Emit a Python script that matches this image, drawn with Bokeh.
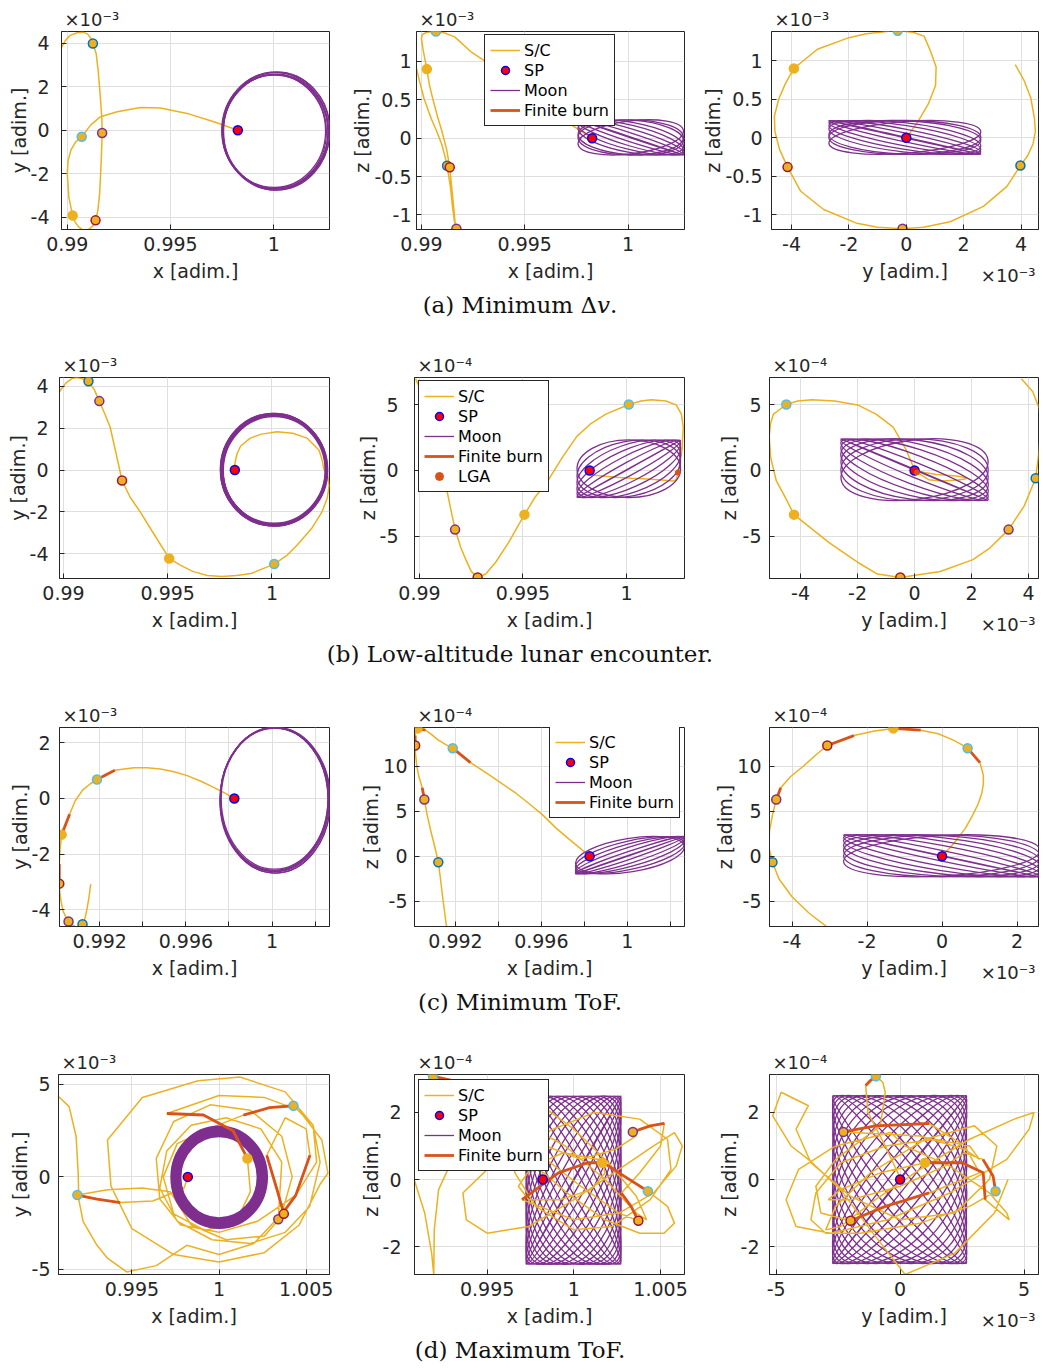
import numpy as np
from bokeh.plotting import figure
from bokeh.layouts import column, row
from bokeh.models import Range1d, FixedTicker, Legend, LegendItem, Div, Title
from bokeh.embed import file_html
from bokeh.resources import INLINE

# ---------------- colours ----------------
SC = "#EDB120"
MOON = "#7E2F8E"
BURN = "#D95319"
AX = "#262626"
GRID = "#DFDFDF"
BLUE, PURPLE, DRED, ORNG, LBLUE = "#0072BD", "#7E2F8E", "#A2142F", "#EDB120", "#4DBEEE"

# ================= (a) Minimum dv =================
# x [adim.], y [1e-3 adim.], z [1e-3 adim.]
a_x = [0.98972, 0.98990, 0.99012, 0.99048, 0.99075, 0.99098, 0.99114, 0.99124, 0.99140, 0.99150,
       0.99160, 0.99167, 0.99169, 0.99166, 0.99163, 0.99157, 0.99148, 0.99137, 0.99122, 0.99100,
       0.99078, 0.99056, 0.99038, 0.99026, 0.99008, 0.99000, 0.99004, 0.99018, 0.99040, 0.99070,
       0.99113, 0.99161, 0.99242, 0.99355, 0.99452, 0.99580, 0.99710, 0.99826]
a_y = [3.80, 4.10, 4.34, 4.47, 4.50, 4.42, 4.22, 3.98, 3.51, 2.69,
       1.53, 0.60, -0.13, -1.00, -1.72, -2.88, -3.69, -4.14, -4.42, -4.58,
       -4.60, -4.45, -4.22, -3.92, -3.10, -2.00, -1.40, -0.90, -0.55, -0.30,
       0.23, 0.62, 0.85, 1.04, 1.02, 0.77, 0.39, 0.00]
a_z = [0.95, 0.75, 0.52, 0.25, 0.08, -0.08, -0.24, -0.36, -0.63, -0.89,
       -1.09, -1.16, -1.18, -1.16, -1.11, -0.93, -0.69, -0.38, -0.15, 0.08,
       0.28, 0.50, 0.70, 0.90, 1.15, 1.30, 1.35, 1.37, 1.385, 1.39,
       1.37, 1.32, 1.12, 0.92, 0.68, 0.44, 0.20, 0.00]
a_burns = []
a_mk_x = [0.99124, 0.99169, 0.99137, 0.99026, 0.99070]
a_mk_y = [3.98, -0.13, -4.14, -3.92, -0.30]
a_mk_z = [-0.36, -1.18, -0.38, 0.90, 1.39]
a_mk_c = [BLUE, PURPLE, DRED, ORNG, LBLUE]
a_sp = [0.99826, 0.0, 0.0]
# Moon loops: (centre h, centre v, width, height, angle deg)
a_moon_xy = [(1.00006, -0.02, 0.00516, 5.32, 0), (1.00010, -0.06, 0.00510, 5.26, 0),
             (1.00003, -0.08, 0.00504, 5.22, 0), (1.00012, 0.00, 0.00520, 5.36, 0),
             (1.00008, -0.10, 0.00508, 5.30, 0), (1.00001, -0.04, 0.00500, 5.18, 0),
             (1.00014, -0.05, 0.00514, 5.40, 0)]
a_moon_xz = [(1.00013, 0.01, 0.00537, 0.01, -18.4), (1.00013, 0.01, 0.00536, 0.113, -17.9),
             (1.00013, 0.01, 0.00531, 0.220, -16.5), (1.00013, 0.01, 0.00525, 0.315, -13.9),
             (1.00013, 0.01, 0.00518, 0.391, -10.2), (1.00013, 0.01, 0.00511, 0.451, -3.7),
             (1.00013, 0.01, 0.00510, 0.459, 0.0), (1.00013, 0.01, 0.00514, 0.428, 7.2)]
a_moon_yz = [(-0.05, 0.005, 5.43, 0.01, -12.5), (-0.05, 0.005, 5.41, 0.112, -12.2),
             (-0.05, 0.005, 5.39, 0.216, -11.0), (-0.05, 0.005, 5.36, 0.308, -9.1),
             (-0.05, 0.005, 5.33, 0.380, -6.6), (-0.05, 0.005, 5.30, 0.433, -2.3),
             (-0.05, 0.005, 5.30, 0.440, 0.0), (-0.05, 0.005, 5.31, 0.412, 4.5)]

# ================= (b) Low-altitude lunar encounter =================
# x [adim.], y [1e-3], z [1e-4]
b_x = [0.98981, 0.99010, 0.99040, 0.99065, 0.99095, 0.99120, 0.99148, 0.99172, 0.99200, 0.99224,
       0.99250, 0.99281, 0.99320, 0.99368, 0.99430, 0.99507, 0.99560, 0.99620, 0.99690, 0.99760,
       0.99830, 0.99900, 1.00011, 1.00070, 1.00120, 1.00190, 1.00240, 1.00265, 1.00274, 1.00268,
       1.00255, 1.00248, 1.00240, 1.00226, 1.00168, 1.00100, 1.00024, 0.99950, 0.99896, 0.99850,
       0.99832, 0.99823, 0.99822]
b_y = [3.75, 4.15, 4.38, 4.43, 4.36, 4.25, 3.85, 3.30, 2.65, 2.05,
       0.90, -0.50, -1.30, -2.00, -3.00, -4.23, -4.55, -4.85, -5.05, -5.10,
       -5.05, -4.95, -4.50, -4.10, -3.60, -2.80, -2.00, -1.35, -0.75, -0.30,
       -0.05, 0.08, 0.50, 0.95, 1.53, 1.76, 1.83, 1.72, 1.53, 1.15,
       0.77, 0.35, 0.05]
b_z = [7.0, 6.0, 4.7, 3.2, 1.3, -0.59, -2.7, -4.51, -5.9, -6.8,
       -7.7, -8.16, -7.9, -7.0, -5.5, -3.37, -2.0, -0.8, 1.0, 2.6,
       3.6, 4.3, 5.03, 5.30, 5.40, 5.30, 5.00, 4.30, 3.30, 1.60,
       0.30, -0.15, -0.70, -0.80, -0.72, -0.66, -0.60, -0.52, -0.45, -0.37,
       -0.30, -0.15, 0.0]
b_burns = []
b_mk_x = [0.99120, 0.99172, 0.99281, 0.99507, 1.00011]
b_mk_y = [4.25, 3.30, -0.50, -4.23, -4.50]
b_mk_z = [-0.59, -4.51, -8.16, -3.37, 5.03]
b_mk_c = [BLUE, PURPLE, DRED, ORNG, LBLUE]
b_sp = [0.99822, 0.0, 0.0]
b_lga = [1.00248, 0.08, -0.15]
b_moon_xy = [(1.00010, 0.02, 0.00502, 5.28, 0), (1.00012, 0.00, 0.00496, 5.22, 0),
             (1.00008, 0.04, 0.00508, 5.34, 0), (1.00011, -0.02, 0.00490, 5.16, 0),
             (1.00009, 0.01, 0.00512, 5.38, 0), (1.00013, 0.03, 0.00498, 5.24, 0),
             (1.00007, -0.01, 0.00505, 5.30, 0), (1.00010, 0.05, 0.00494, 5.20, 0),
             (1.00012, 0.00, 0.00510, 5.33, 0)]
b_moon_xz = [(1.00011, 0.13, 0.00572, 0.02, 29.0), (1.00011, 0.13, 0.00568, 1.01, 28.6),
             (1.00011, 0.13, 0.00558, 1.97, 27.2), (1.00011, 0.13, 0.00543, 2.86, 24.3),
             (1.00011, 0.13, 0.00524, 3.64, 19.4), (1.00011, 0.13, 0.00507, 4.19, 11.3),
             (1.00011, 0.13, 0.00500, 4.40, 0.0)]
b_moon_yz = [(0.0, 0.06, 5.60, 0.05, -22.7), (0.0, 0.06, 5.58, 1.13, -22.2),
             (0.0, 0.06, 5.51, 2.22, -20.6), (0.0, 0.06, 5.41, 3.18, -17.8),
             (0.0, 0.06, 5.30, 3.98, -13.4), (0.0, 0.06, 5.20, 4.53, -7.3),
             (0.0, 0.06, 5.17, 4.71, 0.0), (0.0, 0.06, 5.20, 4.53, 7.3)]

# ================= (c) Minimum ToF =================
c_x = [0.99158, 0.99150, 0.99140, 0.99130, 0.99120, 0.99104, 0.99085, 0.99068, 0.99055, 0.99045,
       0.99030, 0.99020, 0.99014, 0.99012, 0.99012, 0.99016, 0.99023, 0.99060, 0.99085, 0.99120,
       0.99155, 0.99187, 0.99270, 0.99359, 0.99420, 0.99482, 0.99545, 0.99606, 0.99670, 0.99729,
       0.99780, 0.99825]
c_y = [-3.08, -3.55, -4.00, -4.35, -4.52, -4.62, -4.60, -4.52, -4.42, -4.30,
       -4.05, -3.70, -3.35, -3.06, -2.35, -1.80, -1.30, -0.57, -0.10, 0.30,
       0.52, 0.68, 1.01, 1.10, 1.10, 1.06, 0.96, 0.82, 0.62, 0.40,
       0.20, 0.00]
c_z = [-7.8, -6.3, -4.5, -2.5, -0.66, 1.0, 2.8, 4.6, 6.3, 7.6,
       8.8, 10.0, 11.3, 12.3, 13.4, 13.9, 14.2, 14.0, 13.6, 12.9,
       12.4, 12.0, 10.4, 9.0, 8.0, 7.0, 5.8, 4.6, 3.1, 1.9,
       0.9, 0.0]
c_burns = [(8, 9), (13, 14), (16, 17), (21, 22)]
c_mk_x = [0.99120, 0.99055, 0.99012, 0.99023, 0.99187]
c_mk_y = [-4.52, -4.42, -3.06, -1.30, 0.68]
c_mk_z = [-0.66, 6.3, 12.3, 14.2, 12.0]
c_mk_c = [BLUE, PURPLE, DRED, ORNG, LBLUE]
c_sp = [0.99825, 0.0, 0.0]
c_moon_xy = [(1.00013, -0.04, 0.00506, 5.18, 0), (1.00010, -0.02, 0.00500, 5.12, 0),
             (1.00016, -0.06, 0.00510, 5.24, 0), (1.00012, 0.00, 0.00496, 5.08, 0),
             (1.00014, -0.08, 0.00512, 5.20, 0), (1.00011, -0.03, 0.00503, 5.15, 0)]
c_moon_xz = [(1.00013, 0.125, 0.00537, 0.05, 19.0), (1.00013, 0.125, 0.00536, 0.86, 18.7),
             (1.00013, 0.125, 0.00532, 1.74, 17.5), (1.00013, 0.125, 0.00526, 2.50, 15.5),
             (1.00013, 0.125, 0.00519, 3.15, 12.6), (1.00013, 0.125, 0.00513, 3.72, 9.2)]
c_moon_yz = [(-0.01, 0.05, 5.35, 0.05, -12.2), (-0.01, 0.05, 5.34, 1.17, -11.8),
             (-0.01, 0.05, 5.32, 2.29, -10.7), (-0.01, 0.05, 5.29, 3.26, -8.9),
             (-0.01, 0.05, 5.26, 4.01, -6.4), (-0.01, 0.05, 5.24, 4.50, -3.3),
             (-0.01, 0.05, 5.23, 4.67, 0.0), (-0.01, 0.05, 5.24, 4.50, 3.3)]

# ================= (d) Maximum ToF =================
d_x = [0.99079, 0.99140, 0.99180, 0.99192, 0.99195, 0.99220, 0.99300, 0.99360, 0.99470, 0.99640,
       0.99815, 1.00000, 1.00200, 1.00360, 1.00420, 1.00360, 1.00180, 0.99950, 0.99740, 0.99640,
       0.99660, 0.99780, 1.00000, 1.00220, 1.00440, 1.00560, 1.00540, 1.00380, 1.00120, 0.99880,
       0.99560, 0.99360, 0.99380, 0.99500, 0.99740, 1.00000, 1.00260, 1.00460, 1.00580, 1.00625,
       1.00590, 1.00460, 1.00260, 1.00000, 0.99701, 0.99911, 1.00080, 1.00163, 1.00180, 1.00100,
       0.99920, 0.99740, 0.99680, 0.99760, 0.99940, 1.00140, 1.00290, 1.00427, 1.00540, 1.00580,
       1.00520, 1.00380, 1.00180, 0.99960, 0.99760, 0.99660, 0.99700, 0.99840, 1.00040, 1.00240,
       1.00360, 1.00340, 1.00440, 1.00522, 1.00500, 1.00380, 1.00274, 1.00330, 1.00372, 1.00260,
       1.00040, 0.99840, 0.99720, 0.99560, 0.99360, 0.99187, 0.99300, 0.99433, 0.99620, 0.99800,
       0.99821]
d_y = [4.35, 3.80, 2.20, 0.20, -1.20, -2.40, -3.70, -4.40, -5.14, -4.80,
       -3.70, -4.20, -3.60, -2.00, 0.00, 2.20, 3.60, 3.90, 3.00, 1.00,
       -1.20, -2.60, -3.00, -2.40, -1.00, 0.80, 2.80, 4.60, 5.40, 5.20,
       4.30, 2.00, -0.50, -2.80, -4.20, -4.60, -4.10, -2.60, -0.40, 0.20,
       2.00, 3.60, 4.30, 4.40, 3.43, 3.35, 2.50, 1.00, -0.80, -2.40,
       -2.90, -2.00, 0.00, 1.80, 2.60, 3.34, 3.75, 3.85, 2.80, 0.80,
       -1.60, -3.00, -3.60, -3.40, -2.40, -0.60, 1.40, 2.80, 3.20, 2.60,
       0.80, -2.29, -1.00, 1.17, 2.60, 3.20, 1.17, -0.60, -2.00, -3.20,
       -3.40, -2.60, -0.80, -0.60, -0.70, -0.98, -1.20, -1.39, -1.30, -0.60,
       0.00]
d_z = [0.00, -1.00, -2.20, -2.83, -1.50, -0.30, 0.60, 1.00, 1.90, 2.60,
       2.20, 1.50, 0.50, -0.50, -1.20, -1.00, 0.00, 1.00, 1.60, 1.20,
       0.20, -0.80, -1.50, -1.40, -0.60, 0.30, 1.20, 1.80, 2.00, 1.50,
       0.60, -0.40, -1.20, -1.60, -1.40, -0.60, 0.30, 1.00, 1.40, 1.00,
       0.40, -0.40, -1.00, -1.20, -0.60, 0.20, 0.50, 0.50, 0.20, -0.30,
       -0.60, -0.60, -0.20, 0.40, 0.80, 0.60, 0.10, -0.35, -0.80, -1.30,
       -1.60, -1.60, -1.20, -0.40, 0.50, 1.00, 1.20, 1.00, 0.60, 0.90,
       1.30, 1.42, 1.60, 1.67, 1.00, 0.20, -0.40, -0.80, -1.23, -1.00,
       -0.20, 0.60, 1.60, 2.60, 2.90, 3.08, 2.95, 2.80, 2.00, 1.00,
       0.05]
d_burns = [(44, 47), (55, 57), (71, 73), (76, 78), (85, 87)]
d_mk_x = [0.99187, 1.00427, 1.00340, 1.00372, 1.00163]
d_mk_y = [-0.98, 3.85, -2.29, -2.00, 1.00]
d_mk_z = [3.08, -0.35, 1.42, -1.23, 0.50]
d_mk_c = [LBLUE, LBLUE, PURPLE, DRED, ORNG]
d_sp = [0.99821, 0.0, 0.0]
d_moon_xy = [(1.00000, -0.02, 0.00444, 4.44, 0), (1.00002, -0.01, 0.00456, 4.56, 0),
             (0.99999, -0.03, 0.00468, 4.68, 0), (1.00001, -0.02, 0.00480, 4.80, 0),
             (1.00000, -0.01, 0.00492, 4.92, 0), (1.00002, -0.03, 0.00504, 5.04, 0),
             (0.99999, -0.02, 0.00516, 5.16, 0), (1.00001, -0.01, 0.00528, 5.28, 0),
             (1.00000, -0.02, 0.00540, 5.40, 0), (1.00001, -0.02, 0.00548, 5.48, 0)]
d_moon_xz = [(0.99998, -0.02, 0.01114, 0.02, 60.5), (0.99998, -0.02, 0.01110, 0.42, 60.7),
             (0.99998, -0.02, 0.01100, 0.85, 61.3), (0.99998, -0.02, 0.01085, 1.26, 62.4),
             (0.99998, -0.02, 0.01066, 1.65, 64.0), (0.99998, -0.02, 0.01043, 2.01, 66.6),
             (0.99998, -0.02, 0.01017, 2.33, 70.1), (0.99998, -0.02, 0.00993, 2.59, 75.2),
             (0.99998, -0.02, 0.00976, 2.77, 82.0), (0.99998, -0.02, 0.00969, 2.83, 90.0),
             (0.99998, -0.02, 0.00976, 2.77, -82.0), (0.99998, -0.02, 0.00993, 2.59, -75.2),
             (0.99998, -0.02, 0.01017, 2.33, -70.1), (0.99998, -0.02, 0.01043, 2.01, -66.6),
             (0.99998, -0.02, 0.01066, 1.65, -64.0), (0.99998, -0.02, 0.01085, 1.26, -62.4),
             (0.99998, -0.02, 0.01100, 0.85, -61.3), (0.99998, -0.02, 0.01110, 0.42, -60.7)]
d_moon_yz = [(-0.02, 0.0, 8.66, 0.02, 51.4), (-0.02, 0.0, 8.64, 0.54, 51.5),
             (-0.02, 0.0, 8.54, 1.08, 51.8), (-0.02, 0.0, 8.39, 1.61, 52.4),
             (-0.02, 0.0, 8.17, 2.13, 53.3), (-0.02, 0.0, 7.90, 2.62, 54.8),
             (-0.02, 0.0, 7.60, 3.08, 57.3), (-0.02, 0.0, 7.25, 3.50, 61.9),
             (-0.02, 0.0, 6.93, 3.84, 71.4), (-0.02, 0.0, 6.77, 3.99, 90.0),
             (-0.02, 0.0, 6.93, 3.84, -71.4), (-0.02, 0.0, 7.25, 3.50, -61.9),
             (-0.02, 0.0, 7.60, 3.08, -57.3), (-0.02, 0.0, 7.90, 2.62, -54.8),
             (-0.02, 0.0, 8.17, 2.13, -53.3), (-0.02, 0.0, 8.39, 1.61, -52.4),
             (-0.02, 0.0, 8.54, 1.08, -51.8), (-0.02, 0.0, 8.64, 0.54, -51.5)]

# ---------------- axis limits and ticks ----------------
a_ranges = [([0.98972, 1.0027], [-4.56, 4.53]), ([0.98976, 1.00273], [-1.19, 1.39]), ([-4.70, 4.61], [-1.19, 1.38])]
b_ranges = [([0.98981, 1.00276], [-5.19, 4.43]), ([0.98976, 1.00280], [-8.24, 7.09]), ([-5.09, 4.35], [-8.24, 7.09])]
c_ranges = [([0.99013, 1.00267], [-4.60, 2.55]), ([0.99009, 1.00267], [-7.8, 14.3]), ([-4.60, 2.57], [-7.8, 14.3])]
d_ranges = [([0.99079, 1.00634], [-5.28, 5.54]), ([0.99081, 1.00638], [-2.83, 3.13]), ([-5.27, 5.58], [-2.83, 3.13])]

x_ticks_ab = [0.99, 0.995, 1.0]
x_labels_ab = ["0.99", "0.995", "1"]
x_ticks_c = [0.992, 0.994, 0.996, 0.998, 1.0, 1.002]
x_labels_c = ["0.992", "", "0.996", "", "1", ""]
x_ticks_d = [0.995, 1.0, 1.005]
x_labels_d = ["0.995", "1", "1.005"]
t_m4_4 = [-4, -2, 0, 2, 4]
l_m4_4 = ["-4", "-2", "0", "2", "4"]
t_m1_1 = [-1, -0.5, 0, 0.5, 1]
l_m1_1 = ["-1", "-0.5", "0", "0.5", "1"]
t_m5_5 = [-5, 0, 5]
l_m5_5 = ["-5", "0", "5"]
t_m4_2 = [-4, -2, 0, 2]
l_m4_2 = ["-4", "-2", "0", "2"]
t_c_z = [-5, 0, 5, 10]
l_c_z = ["-5", "0", "5", "10"]
t_m2_2 = [-2, 0, 2]
l_m2_2 = ["-2", "0", "2"]

E3 = "\u00d710\u207b\u00b3"
E4 = "\u00d710\u207b\u2074"

captions = ["(a) Minimum \u0394<i>v</i>.", "(b) Low-altitude lunar encounter.",
            "(c) Minimum ToF.", "(d) Maximum ToF."]

FONT = "DejaVu Sans"
NAN = np.array([np.nan])


def make_panel(h, v, moon, mk_h, mk_v, mk_c, sp, burns, rng, xt, xl, yt, yl, xlab, ylab,
               yexp, geom, ystand, ylstand, moon_first=False, moon_lw=1.3, xexp=None,
               legend_loc=None, lga=None):
    fw, bl, br, fh, bt, bb = geom
    xr, yr = rng
    p = figure(width=fw, height=fh, x_range=Range1d(xr[0], xr[1]), y_range=Range1d(yr[0], yr[1]),
               output_backend="svg", toolbar_location=None,
               min_border_left=bl, min_border_right=br, min_border_top=bt, min_border_bottom=bb)
    p.background_fill_color = "white"
    p.border_fill_color = "white"
    p.outline_line_color = AX
    p.outline_line_alpha = 1.0
    p.outline_line_width = 1
    p.xaxis.ticker = FixedTicker(ticks=xt)
    p.xaxis.major_label_overrides = dict(zip(xt, xl))
    p.yaxis.ticker = FixedTicker(ticks=yt)
    p.yaxis.major_label_overrides = dict(zip(yt, yl))
    p.xaxis.axis_label = xlab
    p.yaxis.axis_label = ylab
    for ax in (p.xaxis[0], p.yaxis[0]):
        ax.major_label_text_font = FONT
        ax.major_label_text_font_size = "19px"
        ax.major_label_text_color = AX
        ax.axis_label_text_font = FONT
        ax.axis_label_text_font_size = "19px"
        ax.axis_label_text_font_style = "normal"
        ax.axis_label_text_color = AX
        ax.axis_line_color = AX
        ax.major_tick_line_color = AX
        ax.major_tick_in = 5
        ax.major_tick_out = 0
        ax.minor_tick_line_color = None
    p.xaxis.major_label_standoff = 7
    p.xaxis.axis_label_standoff = 6
    p.yaxis.major_label_standoff = ystand
    p.yaxis.axis_label_standoff = ylstand
    p.xgrid.grid_line_color = GRID
    p.ygrid.grid_line_color = GRID

    # power-of-ten multiplier above the vertical axis
    p.title.text = yexp
    p.title.align = "left"
    p.title.offset = 3
    p.title.standoff = 4
    p.title.vertical_align = "bottom"
    p.title.text_font = FONT
    p.title.text_font_size = "18px"
    p.title.text_font_style = "normal"
    p.title.text_color = AX

    def draw_moon():
        return p.ellipse(x=[m[0] for m in moon], y=[m[1] for m in moon],
                         width=[m[2] for m in moon], height=[m[3] for m in moon],
                         angle=[m[4] for m in moon], angle_units="deg",
                         fill_color=None, line_color=MOON, line_width=moon_lw)

    if moon_first:
        draw_moon()
    r_sc = p.line(h, v, line_color=SC, line_width=1.5)
    if not moon_first:
        draw_moon()
    bxs = [h[i0:i1 + 1] for (i0, i1) in burns]
    bys = [v[i0:i1 + 1] for (i0, i1) in burns]
    p.multi_line(xs=bxs, ys=bys, line_color=BURN, line_width=2.8)
    p.scatter(mk_h, mk_v, size=9, fill_color=SC, line_color=mk_c, line_width=1.5)
    r_sp = p.scatter([sp[0]], [sp[1]], size=9, fill_color="#FF0000", line_color="#0000FF", line_width=1.5)
    r_lga = None
    if lga is not None:
        r_lga = p.scatter([lga[0]], [lga[1]], size=5, fill_color=BURN, line_color=BURN)

    if xexp is not None:
        p.add_layout(Title(text=xexp, align="right", offset=3, standoff=-40, vertical_align="top",
                           text_font=FONT, text_font_size="18px", text_font_style="normal",
                           text_color=AX), "below")

    if legend_loc is not None:
        moon_key = p.line(NAN, NAN, line_color=MOON, line_width=1.3)
        burn_key = p.line(NAN, NAN, line_color=BURN, line_width=2.8)
        items = [LegendItem(label="S/C", renderers=[r_sc]),
                 LegendItem(label="SP", renderers=[r_sp]),
                 LegendItem(label="Moon", renderers=[moon_key]),
                 LegendItem(label="Finite burn", renderers=[burn_key])]
        if r_lga is not None:
            items.append(LegendItem(label="LGA", renderers=[r_lga]))
        lg = Legend(items=items, location=legend_loc)
        lg.label_text_font = FONT
        lg.label_text_font_size = "16px"
        lg.label_text_color = "#000000"
        lg.border_line_color = AX
        lg.border_line_width = 1
        lg.border_line_alpha = 1.0
        lg.background_fill_color = "white"
        lg.background_fill_alpha = 1.0
        lg.padding = 5
        lg.spacing = 0
        lg.margin = 0
        lg.glyph_width = 30
        lg.glyph_height = 20
        lg.label_height = 20
        lg.label_standoff = 4
        p.add_layout(lg)
    return p


def scenario(X, Y, Z, mx, my, mz, mc, sp, burns, moons, ranges, xt, xl, zt, zl, yt3, yl3,
             yt1, yl1, exps, geoms, stands, lstands, legend_loc, moon_first3=False, moon_lw1=1.3,
             lga=None):
    p1 = make_panel(X, Y, moons[0], mx, my, mc, (sp[0], sp[1]), burns, ranges[0], xt, xl, yt1, yl1,
                    "x [adim.]", "y [adim.]", exps[0], geoms[0], stands[0], lstands[0], moon_lw=moon_lw1)
    p2 = make_panel(X, Z, moons[1], mx, mz, mc, (sp[0], sp[2]), burns, ranges[1], xt, xl, zt, zl,
                    "x [adim.]", "z [adim.]", exps[1], geoms[1], stands[1], lstands[1],
                    moon_first=moon_first3, legend_loc=legend_loc,
                    lga=None if lga is None else (lga[0], lga[2]))
    p3 = make_panel(Y, Z, moons[2], my, mz, mc, (sp[1], sp[2]), burns, ranges[2], yt3, yl3, zt, zl,
                    "y [adim.]", "z [adim.]", exps[2], geoms[2], stands[2], lstands[2],
                    moon_first=moon_first3, xexp=E3,
                    lga=None if lga is None else (lga[1], lga[2]))
    return row(p1, p2, p3, spacing=0)


# geometry: (fig width, border left, border right, fig height, border top, border bottom)
ga = [(345, 61, 16, 290, 31, 61), (345, 71, 6, 290, 31, 61), (350, 81, 2, 290, 31, 61)]
gb = [(345, 59, 16, 294, 32, 61), (345, 69, 6, 294, 32, 61), (350, 79, 2, 294, 32, 61)]
gc = [(345, 59, 16, 292, 32, 61), (345, 69, 6, 292, 32, 61), (350, 79, 2, 292, 32, 61)]
gd = [(345, 58, 16, 293, 32, 61), (345, 69, 6, 293, 32, 61), (350, 79, 2, 293, 32, 61)]

row_a = scenario(a_x, a_y, a_z, a_mk_x, a_mk_y, a_mk_z, a_mk_c, a_sp, a_burns,
                 [a_moon_xy, a_moon_xz, a_moon_yz], a_ranges, x_ticks_ab, x_labels_ab,
                 t_m1_1, l_m1_1, t_m4_4, l_m4_4, t_m4_4, l_m4_4, [E3, E3, E3], ga,
                 [12, 5, 9], [-2, -2, -2], (68, 103))
row_b = scenario(b_x, b_y, b_z, b_mk_x, b_mk_y, b_mk_z, b_mk_c, b_sp, b_burns,
                 [b_moon_xy, b_moon_xz, b_moon_yz], b_ranges, x_ticks_ab, x_labels_ab,
                 t_m5_5, l_m5_5, t_m4_4, l_m4_4, t_m4_4, l_m4_4, [E3, E4, E4], gb,
                 [11, 16, 8], [-2, -2, 0], (4, 86), moon_lw1=1.6, lga=b_lga)
row_c = scenario(c_x, c_y, c_z, c_mk_x, c_mk_y, c_mk_z, c_mk_c, c_sp, c_burns,
                 [c_moon_xy, c_moon_xz, c_moon_yz], c_ranges, x_ticks_c, x_labels_c,
                 t_c_z, l_c_z, t_m4_2, l_m4_2, t_m4_2, l_m4_2, [E3, E4, E4], gc,
                 [9, 7, 8], [-2, -2, -2], (135, 108))
row_d = scenario(d_x, d_y, d_z, d_mk_x, d_mk_y, d_mk_z, d_mk_c, d_sp, d_burns,
                 [d_moon_xy, d_moon_xz, d_moon_yz], d_ranges, x_ticks_d, x_labels_d,
                 t_m2_2, l_m2_2, t_m5_5, l_m5_5, t_m5_5, l_m5_5, [E3, E4, E4], gd,
                 [8, 13, 10], [-2, -2, -2], (4, 103), moon_first3=True, moon_lw1=2.2)


def caption(txt, hgt):
    html = ('<div style="width:1040px;text-align:center;font-family:\'DejaVu Serif\';'
            'font-size:23px;line-height:30px;color:#111111;">' + txt + '</div>')
    return Div(text=html, width=1040, height=hgt, margin=(0, 0, 0, 0))


layout = column(row_a, caption(captions[0], 55), row_b, caption(captions[1], 56),
                row_c, caption(captions[2], 55), row_d, caption(captions[3], 30), spacing=0)

open("out.html", "w").write(file_html(layout, INLINE))
